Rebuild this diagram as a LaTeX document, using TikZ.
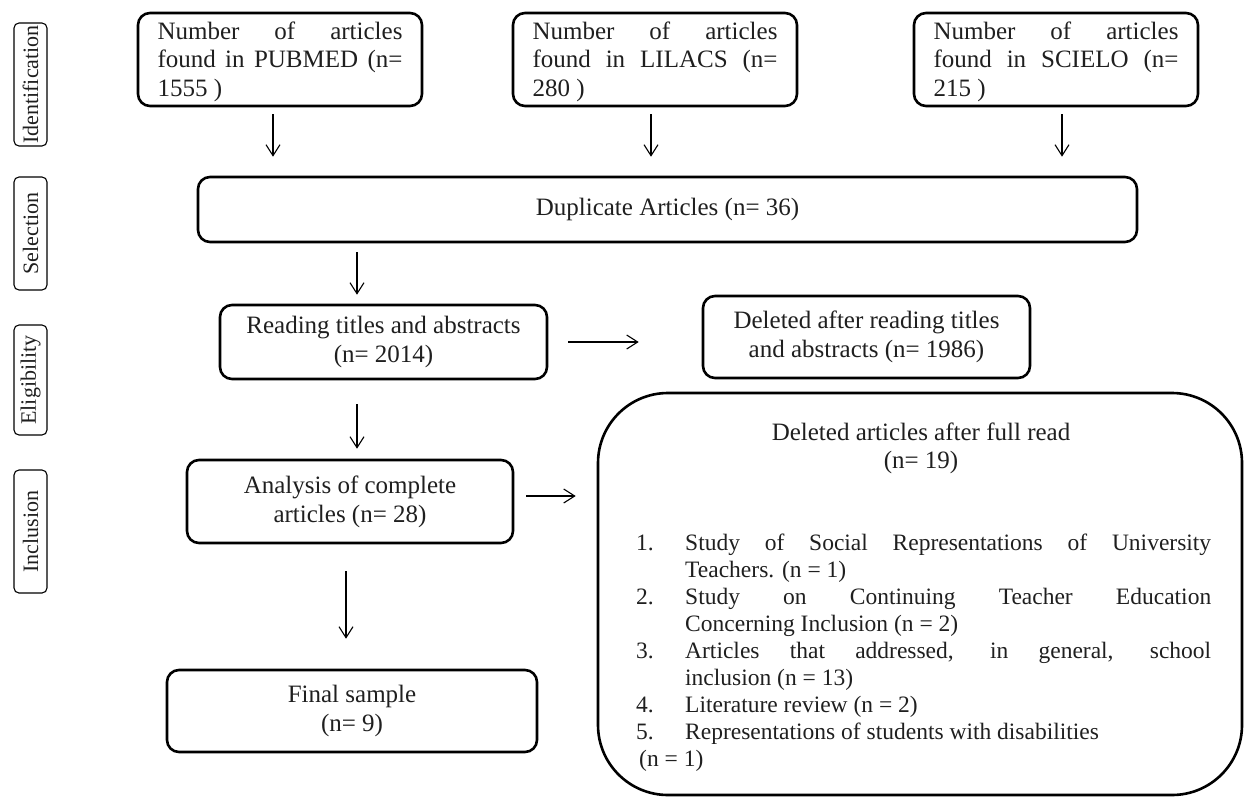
\documentclass[tikz,border=0pt]{standalone}
\usepackage{fontspec}
\setmainfont{Liberation Serif}
\usetikzlibrary{arrows.meta}
\newcommand{\jl}[2]{\makebox[#1][s]{#2}}
\begin{document}
\begin{tikzpicture}[x=1pt,y=-1pt,
  box/.style={draw, line width=2.6pt, rounded corners=12pt, inner sep=0pt, text=black!88,
              font=\fontsize{25}{29}\selectfont, align=center},
  lab/.style={draw, line width=1.1pt, rounded corners=5pt, inner sep=0pt, rotate=90,
              minimum height=33pt, font=\fontsize{22}{24}\selectfont, text=black!88},
  arr/.style={line width=1.1pt, -{Straight Barb[length=11pt,width=14pt,line width=1.1pt]}},
  txt/.style={inner sep=0pt, text=black!88},
]
\useasboundingbox (0,0) rectangle (1244,803);

% phase labels
\node[lab, minimum width=123pt] (lid) at (30.5,84.5) {Identification};
\node[lab, minimum width=113pt] (lse) at (30.5,233.5) {Selection};
\node[lab, minimum width=110pt] (lel) at (30.5,380) {Eligibility};
\node[lab, minimum width=123pt] (lin) at (30.5,531.5) {Inclusion};

% top boxes
\node[box, minimum width=284pt, minimum height=93pt] (pub) at (280,59.5) {};
\node[txt, font=\fontsize{25}{28.5}\selectfont] at (280,61.5) {\parbox{245pt}{\jl{245pt}{Number of articles}\\\jl{245pt}{found in PUBMED (n=}\\1555 )}};
\node[box, minimum width=284pt, minimum height=93pt] (lil) at (655,59.5) {};
\node[txt, font=\fontsize{25}{28.5}\selectfont] at (655,61.5) {\parbox{245pt}{\jl{245pt}{Number of articles}\\\jl{245pt}{found in LILACS (n=}\\280 )}};
\node[box, minimum width=284pt, minimum height=93pt] (sci) at (1056,59.5) {};
\node[txt, font=\fontsize{25}{28.5}\selectfont] at (1056,61.5) {\parbox{245pt}{\jl{245pt}{Number of articles}\\\jl{245pt}{found in SCIELO (n=}\\215 )}};

% main flow
\node[box, minimum width=939pt, minimum height=65pt] (dup) at (667.5,209.5) {Duplicate Articles (n= 36)};
\node[box, minimum width=327pt, minimum height=74pt] (rea) at (383.5,342) {Reading titles and abstracts\\(n= 2014)};
\node[box, minimum width=327pt, minimum height=82pt] (del) at (866.5,337) {Deleted after reading titles\\and abstracts (n= 1986)};
\node[box, minimum width=326pt, minimum height=83pt] (ana) at (350,501.5) {Analysis of complete\\articles (n= 28)};
\node[box, minimum width=370pt, minimum height=82pt] (fin) at (352,711) {Final sample\\(n= 9)};
\node[box, rounded corners=70pt, minimum width=644pt, minimum height=402pt] (big) at (920,594) {};

\node[txt, align=center, font=\fontsize{25}{28}\selectfont] (bigt) at (921,448) {Deleted articles after full read\\(n= 19)};
\node[txt, anchor=base west, font=\fontsize{23.5}{27}\selectfont] (list) at (636,550) {\parbox[t]{580pt}{%
\makebox[49pt][l]{1.}\jl{526pt}{Study of Social Representations of University}\\
\hspace*{49pt}Teachers. (n = 1)\\
\makebox[49pt][l]{2.}\jl{526pt}{Study on Continuing Teacher Education}\\
\hspace*{49pt}Concerning Inclusion (n = 2)\\
\makebox[49pt][l]{3.}\jl{526pt}{Articles that addressed, in general, school}\\
\hspace*{49pt}inclusion (n = 13)\\
\makebox[49pt][l]{4.}Literature review (n = 2)\\
\makebox[49pt][l]{5.}Representations of students with disabilities\\
\hspace*{3pt}(n = 1)}};

% arrows
\draw[arr, shorten <=7pt, shorten >=19pt] ([xshift=-7pt]pub.south) -- ([xshift=-7pt]pub.south |- dup.north);
\draw[arr, shorten <=7pt, shorten >=19pt] ([xshift=-4pt]lil.south) -- ([xshift=-4pt]lil.south |- dup.north);
\draw[arr, shorten <=7pt, shorten >=19pt] ([xshift=6pt]sci.south) -- ([xshift=6pt]sci.south |- dup.north);
\coordinate (rin) at ([xshift=-26.5pt]rea.north);
\draw[arr, shorten <=9pt, shorten >=9pt] (dup.south -| rin) -- (rin);
\coordinate (aout) at ([xshift=7pt]ana.north);
\draw[arr, shorten <=24pt, shorten >=10pt] (rea.south -| aout) -- (aout);
\draw[arr, shorten <=20pt, shorten >=63pt] (rea.east) -- (rea.east -| del.west);
\draw[arr, shorten <=12pt, shorten >=21pt] ([yshift=5.5pt]ana.east) -- ([yshift=5.5pt]ana.east -| big.west);
\coordinate (fin1) at ([xshift=-6pt]fin.north);
\draw[arr, shorten <=27pt, shorten >=30pt] (ana.south -| fin1) -- (fin1);
\end{tikzpicture}
\end{document}
